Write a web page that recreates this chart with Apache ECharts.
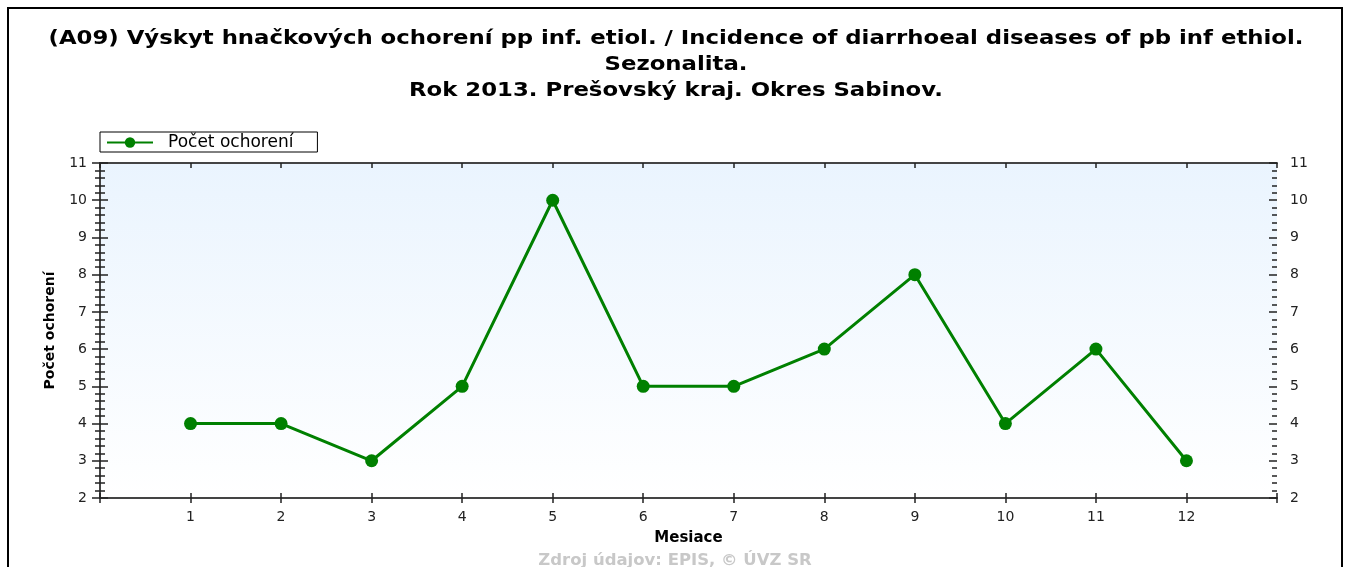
<!DOCTYPE html>
<html>
<head>
<meta charset="utf-8">
<script src="https://cdn.jsdelivr.net/npm/echarts@6/dist/echarts.min.js"></script>
<style>
  html, body { margin: 0; padding: 0; background: #fff; }
  #chart { width: 1347px; height: 567px; }
</style>
</head>
<body>
<div id="chart"></div>
<script>
// data
const months = [1, 2, 3, 4, 5, 6, 7, 8, 9, 10, 11, 12];
const cases = [4, 4, 3, 5, 10, 5, 5, 6, 8, 4, 6, 3];
const titleLines = [
  "(A09) Výskyt hnačkových ochorení pp inf. etiol. / Incidence of diarrhoeal diseases of pb inf ethiol.",
  "Sezonalita.",
  "Rok 2013. Prešovský kraj. Okres Sabinov."
];
const seriesName = "Počet ochorení";
const xName = "Mesiace";
const sourceText = "Zdroj údajov: EPIS, © ÚVZ SR";

const axisColor = "#444";
const font = "DejaVu Sans, Verdana, sans-serif";

const chart = echarts.init(document.getElementById("chart"));

const monthLabel = (v) => (v >= 1 && v <= 12 ? String(v) : "");

// shared scale for all x axes / y axes
const xBase = { type: "value", min: 0, max: 13, interval: 1, splitLine: { show: false } };
const yBase = { type: "value", min: 2, max: 11, interval: 1, splitLine: { show: false } };

const tickStyle = { color: "#222", width: 1.5 };

const option = {
  animation: false,
  legend: {
    left: 100,
    top: 132,
    padding: [2, 24, 1, 6],
    borderColor: "#000",
    borderWidth: 1,
    itemWidth: 46,
    itemHeight: 13,
    itemGap: 10,
    textStyle: { fontFamily: font, fontSize: 17, color: "#000", padding: [0, 0, 0, 10] },
    data: [seriesName]
  },
  grid: {
    left: 100,
    right: 70,
    top: 163,
    bottom: 69,
    show: true,
    borderWidth: 0,
    backgroundColor: new echarts.graphic.LinearGradient(0, 0, 0, 1, [
      { offset: 0, color: "#eaf4fe" },
      { offset: 1, color: "#ffffff" }
    ])
  },
  xAxis: [
    {
      ...xBase,
      position: "bottom",
      name: xName,
      nameLocation: "middle",
      nameGap: 33,
      nameTextStyle: { fontFamily: font, fontSize: 15, fontWeight: "bold", color: "#000" },
      axisLine: { show: true, lineStyle: { color: axisColor, width: 2 } },
      axisTick: { show: true, inside: false, length: 5, lineStyle: tickStyle },
      axisLabel: { formatter: monthLabel, fontFamily: font, fontSize: 14, color: "#222", margin: 12 }
    },
    {
      ...xBase,
      position: "bottom",
      axisLine: { show: false },
      axisTick: { show: true, inside: true, length: 5, lineStyle: tickStyle },
      axisLabel: { show: false }
    },
    {
      ...xBase,
      position: "top",
      axisLine: { show: true, lineStyle: { color: axisColor, width: 2 } },
      axisTick: { show: true, inside: true, length: 5, lineStyle: tickStyle },
      axisLabel: { show: false }
    }
  ],
  yAxis: [
    {
      ...yBase,
      position: "left",
      name: seriesName,
      nameLocation: "middle",
      nameGap: 43,
      nameTextStyle: { fontFamily: font, fontSize: 14, fontWeight: "bold", color: "#000" },
      axisLine: { show: true, lineStyle: { color: axisColor, width: 2 } },
      axisTick: { show: true, inside: false, length: 8, lineStyle: tickStyle },
      minorTick: { show: true, splitNumber: 5, length: 5, lineStyle: tickStyle },
      axisLabel: { fontFamily: font, fontSize: 14, color: "#222", margin: 13 }
    },
    {
      ...yBase,
      position: "left",
      axisLine: { show: false },
      axisTick: { show: true, inside: true, length: 8, lineStyle: tickStyle },
      minorTick: { show: true, splitNumber: 5, length: 5, lineStyle: tickStyle },
      axisLabel: { show: false }
    },
    {
      ...yBase,
      position: "right",
      axisLine: { show: true, lineStyle: { color: axisColor, width: 2 } },
      axisTick: { show: true, inside: false, length: 8, lineStyle: tickStyle },
      minorTick: { show: true, splitNumber: 5, length: 5, lineStyle: tickStyle },
      axisLabel: { fontFamily: font, fontSize: 14, color: "#222", margin: 13 }
    },
    {
      ...yBase,
      position: "right",
      axisLine: { show: false },
      axisTick: { show: true, inside: true, length: 8, lineStyle: tickStyle },
      minorTick: { show: true, splitNumber: 5, length: 5, lineStyle: tickStyle },
      axisLabel: { show: false }
    }
  ],
  series: [
    {
      name: seriesName,
      type: "line",
      xAxisIndex: 0,
      yAxisIndex: 0,
      data: months.map((m, i) => [m, cases[i]]),
      symbol: "circle",
      symbolSize: 13,
      itemStyle: { color: "#008000" },
      lineStyle: { color: "#008000", width: 3 }
    }
  ],
  graphic: [
    {
      type: "rect",
      shape: { x: 8, y: 8, width: 1334, height: 600 },
      style: { fill: null, stroke: "#000", lineWidth: 2 },
      silent: true
    },
    {
      // title drawn as stretched text: the original font is wider than DejaVu
      type: "text",
      x: 676,
      y: 26,
      scaleX: 1.2,
      style: {
        text: titleLines.join("\n"),
        textAlign: "center",
        fontFamily: font,
        fontSize: 19,
        fontWeight: "bold",
        lineHeight: 26,
        fill: "#000"
      }
    },
    {
      type: "text",
      x: 675,
      y: 554,
      scaleX: 1.1,
      style: {
        text: sourceText,
        textAlign: "center",
        fontFamily: font,
        fontSize: 15,
        fontWeight: "bold",
        fill: "#c8c8c8"
      }
    }
  ]
};

chart.setOption(option);
</script>
</body>
</html>
